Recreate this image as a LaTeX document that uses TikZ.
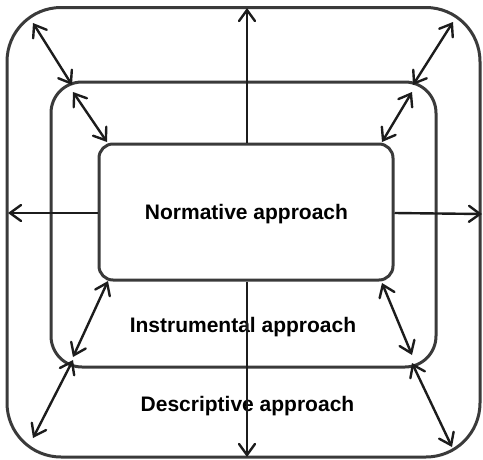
\documentclass[tikz,border=0pt]{standalone}
\usepackage{fontspec}
\setmainfont{Liberation Sans}
\usetikzlibrary{arrows.meta}
\definecolor{framegray}{HTML}{3A3A3A}
\definecolor{linkgray}{HTML}{1C1C1C}
\tikzset{
    frame/.style={draw=framegray, line width=3pt, rounded corners=#1, inner sep=0pt},
    tip/.tip={Straight Barb[length=11pt,width=16pt,line cap=round]},
    link/.style={draw=linkgray, line width=2.4pt, tip-tip},
    outward/.style={draw=linkgray, line width=2.4pt, -tip},
    caption/.style={font=\bfseries\fontsize{21}{25}\selectfont, inner sep=0pt}
}

\begin{document}
\begin{tikzpicture}[x=1pt, y=-1pt]
    \useasboundingbox (0,0) rectangle (483,459);
    \node[frame=54, minimum width=473pt, minimum height=449.5pt] (descriptive) at (243.5,232.25) {};
    \node[frame=31, minimum width=385pt, minimum height=285pt] (instrumental) at (243.5,224.5) {};
    \node[frame=14, minimum width=294pt, minimum height=136pt] (normative) at (246,212) {};
    \node[caption] (normative text) at (246.5,214) {Normative approach};
    \node[caption] (instrumental text) at (243,327) {Instrumental approach};
    \node[caption] (descriptive text) at (247.5,406) {Descriptive approach};
    % corner points
    \coordinate (nw1) at (33,23);   \coordinate (nw2) at (72,85);
    \coordinate (nw3) at (73,92);   \coordinate (nw4) at (107,142);
    \coordinate (ne1) at (453,22);  \coordinate (ne2) at (413,85);
    \coordinate (ne3) at (412,92);  \coordinate (ne4) at (382,142);
    \coordinate (sw1) at (108,281); \coordinate (sw2) at (73,357);
    \coordinate (sw3) at (73,360);  \coordinate (sw4) at (33,438);
    \coordinate (se1) at (382,283); \coordinate (se2) at (412,355);
    \coordinate (se3) at (412,363); \coordinate (se4) at (452,447);
    \coordinate (top) at (247,8);   \coordinate (bottom) at (247,457);
    \coordinate (left) at (8,213);  \coordinate (right) at (482,214);
    \draw[link] (nw1) -- (nw2);
    \draw[link] (nw3) -- (nw4);
    \draw[link] (ne1) -- (ne2);
    \draw[link] (ne3) -- (ne4);
    \draw[link] (sw1) -- (sw2);
    \draw[link] (sw3) -- (sw4);
    \draw[link] (se1) -- (se2);
    \draw[link] (se3) -- (se4);
    \draw[outward] (normative.north -| top) -- (top);
    \draw[outward] (normative.south -| bottom) -- (bottom);
    \draw[outward] ([yshift=-1pt]normative.west) -- (left);
    \draw[outward] ([yshift=-1pt]normative.east) -- (right);
\end{tikzpicture}
\end{document}
